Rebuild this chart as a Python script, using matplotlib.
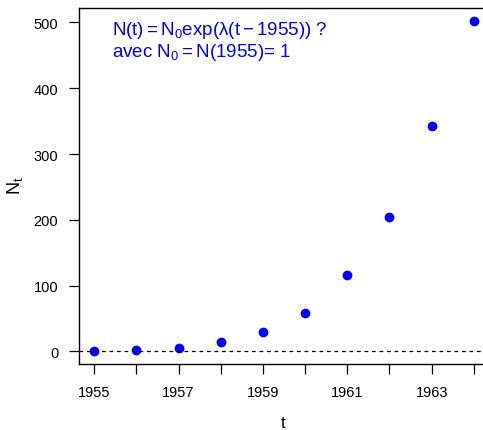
import matplotlib
matplotlib.use("Agg")
import matplotlib.pyplot as plt
import numpy as np

plt.rcParams['font.family'] = ['Liberation Sans', 'DejaVu Sans']
plt.rcParams['mathtext.fontset'] = 'custom'
plt.rcParams['mathtext.rm'] = 'Liberation Sans'
plt.rcParams['mathtext.it'] = 'Liberation Sans'

# data
years = [1955, 1956, 1957, 1958, 1959, 1960, 1961, 1962, 1963, 1964]
counts = [1, 2, 6, 15, 29, 58, 117, 205, 342, 502]
xticks = [1955, 1956, 1957, 1958, 1959, 1960, 1961, 1962, 1963, 1964]
xlabels = ['1955', '', '1957', '', '1959', '', '1961', '', '1963', '']
yticks = [0, 100, 200, 300, 400, 500]

W, H = 483, 431
fig = plt.figure(figsize=(W / 100, H / 100), dpi=100)
ax = fig.add_axes([79 / W, 1 - 365 / H, (489 - 79) / W, (365 - 9) / H])

ax.plot(years, counts, 'o', color='#0000ff', ms=6, mec='#0000ff')
ax.axhline(0, color='black', ls=(0, (3, 3)), lw=0.9)

ax.set_xlim(1954.64, 1964.36)
ax.set_ylim(-19.0, 522.0)
ax.set_xticks(xticks)
ax.set_xticklabels(xlabels)
ax.set_yticks(yticks)
ax.tick_params(direction='out', length=7, width=0.9, labelsize=10.5, pad=8)
for s in ax.spines.values():
    s.set_linewidth(1.0)

# axis titles placed in figure pixels
fig.text(283 / W, 1 - 424 / H, 't', fontsize=12, ha='center', va='center')
fig.text(15 / W, 1 - 186 / H, r'$\mathrm{N_t}$', fontsize=13, ha='center', va='center',
         rotation=90)

ax.text(1955.42, 489, r'$\mathrm{N(t) = N_0 exp(\lambda(t - 1955))}$ ?', color='#0000ff',
        fontsize=13.5, va='center')
ax.text(1955.42, 456, r'avec $\mathrm{N_0 = N(1955)}$= 1', color='#0000ff',
        fontsize=13.5, va='center')

fig.savefig('out.png', dpi=100)
